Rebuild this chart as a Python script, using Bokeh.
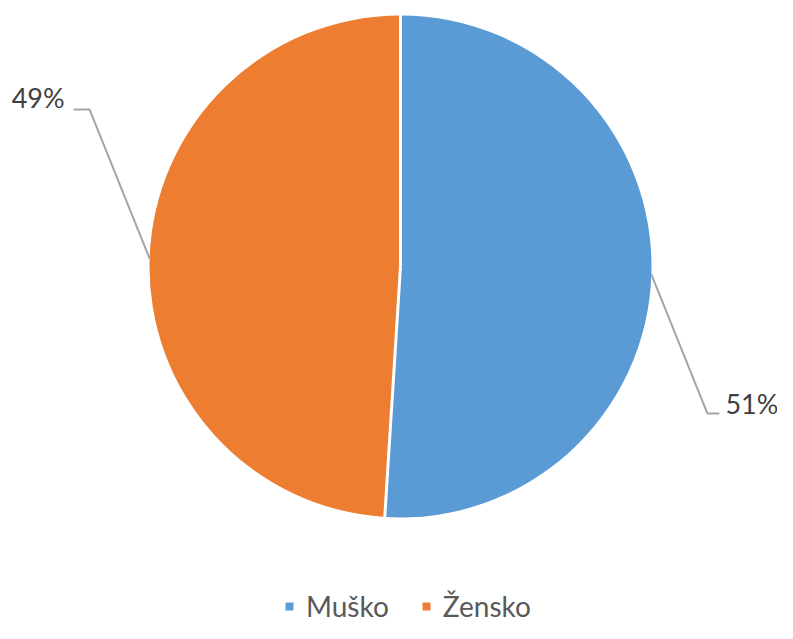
import math
from bokeh.plotting import figure
from bokeh.models import Range1d, Legend, LegendItem
from bokeh.core.properties import value
from bokeh.embed import file_html
from bokeh.resources import INLINE

categories = ["Muško", "Žensko"]
values = [51, 49]
labels = ["51%", "49%"]
colors = ["#5B9BD5", "#ED7D31"]

W, H = 777, 623
PAGE_H = 639
cx, cy, r = 400, PAGE_H - 266, 251

p = figure(width=W, height=H, output_backend="svg", toolbar_location=None,
           x_range=Range1d(0, W), y_range=Range1d(PAGE_H - H, PAGE_H),
           min_border=0, outline_line_color=None)
p.axis.visible = False
p.grid.visible = False
p.background_fill_color = "white"

total = sum(values)
starts, ends, mids = [], [], []
acc = 0.0
for v in values:
    a0 = math.pi / 2 - 2 * math.pi * acc / total
    acc += v
    a1 = math.pi / 2 - 2 * math.pi * acc / total
    starts.append(a0)
    ends.append(a1)
    mids.append((a0 + a1) / 2)

renderers = []
for i in range(len(values)):
    rr = p.wedge(x=cx, y=cy, radius=r, start_angle=starts[i], end_angle=ends[i],
                 direction="clock", fill_color=colors[i], line_color=None)
    renderers.append(rr)

# white separators at slice boundaries
bx = [cx] * len(values)
by = [cy] * len(values)
ex = [cx + r * 1.01 * math.cos(a) for a in starts]
ey = [cy + r * 1.01 * math.sin(a) for a in starts]
p.segment(x0=bx, y0=by, x1=ex, y1=ey, line_color="white", line_width=3)

# leader lines and labels
for i in range(len(values)):
    a = mids[i]
    sx, sy = cx + r * math.cos(a), cy + r * math.sin(a)
    side = 1 if math.cos(a) >= 0 else -1
    if side > 0:
        kx, ky, tick, gap, dy = sx + 56, sy - 139, 12, 6, 10
    else:
        kx, ky, tick, gap, dy = sx - 60, sy + 149, 16, 9, 12
    tx = kx + tick * side
    p.line(x=[sx, kx, tx], y=[sy, ky, ky], line_color="#A5A5A5", line_width=2)
    p.text(x=[tx + gap * side], y=[ky + dy], text=[labels[i]],
           text_align="left" if side > 0 else "right", text_baseline="middle",
           text_font=value("Lato"), text_font_size="27px", text_color="#404040")

legend = Legend(items=[LegendItem(label=categories[i], renderers=[renderers[i]]) for i in range(len(values))],
                orientation="horizontal", location=(284, 0), padding=0, margin=0,
                glyph_width=10, glyph_height=10, label_standoff=12, spacing=32,
                label_text_font="Lato", label_text_font_size="28px", label_text_color="#595959",
                border_line_color=None, background_fill_alpha=0)
p.add_layout(legend)

open("out.html", "w").write(file_html(p, INLINE))
